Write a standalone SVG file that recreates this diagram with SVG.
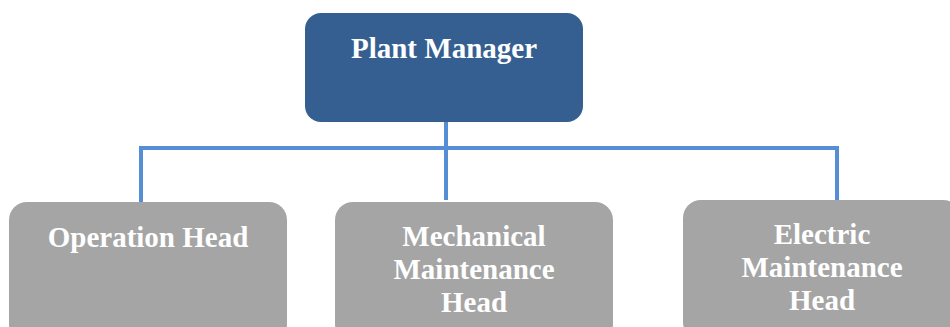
<svg xmlns="http://www.w3.org/2000/svg" width="950" height="327" viewBox="0 0 950 327">
<style>
.t{font-family:"Liberation Serif","Times New Roman",serif;font-weight:bold;font-size:29px;fill:#ffffff;text-anchor:middle}
.top{fill:#365F91}
.sub{fill:#A5A5A5}
.c{stroke:#558ED5;stroke-width:4;fill:none}
</style>
<g id="connectors">
<path class="c" d="M446 122V200"/>
<path class="c" d="M141 202V148H837V200"/>
</g>
<g id="plant-manager">
<rect class="top" x="305" y="13" width="278" height="109" rx="16"/>
<text class="t" x="444" y="58">Plant Manager</text>
</g>
<g id="operation-head">
<rect class="sub" x="9" y="202" width="278" height="140" rx="18"/>
<text class="t" x="148" y="247">Operation Head</text>
</g>
<g id="mechanical-head">
<rect class="sub" x="335" y="202" width="278" height="140" rx="18"/>
<text class="t" x="474" y="246">Mechanical</text>
<text class="t" x="474" y="279">Maintenance</text>
<text class="t" x="474" y="312">Head</text>
</g>
<g id="electric-head">
<rect class="sub" x="683" y="200" width="278" height="140" rx="18"/>
<text class="t" x="822" y="244">Electric</text>
<text class="t" x="822" y="277">Maintenance</text>
<text class="t" x="822" y="310">Head</text>
</g>
</svg>
